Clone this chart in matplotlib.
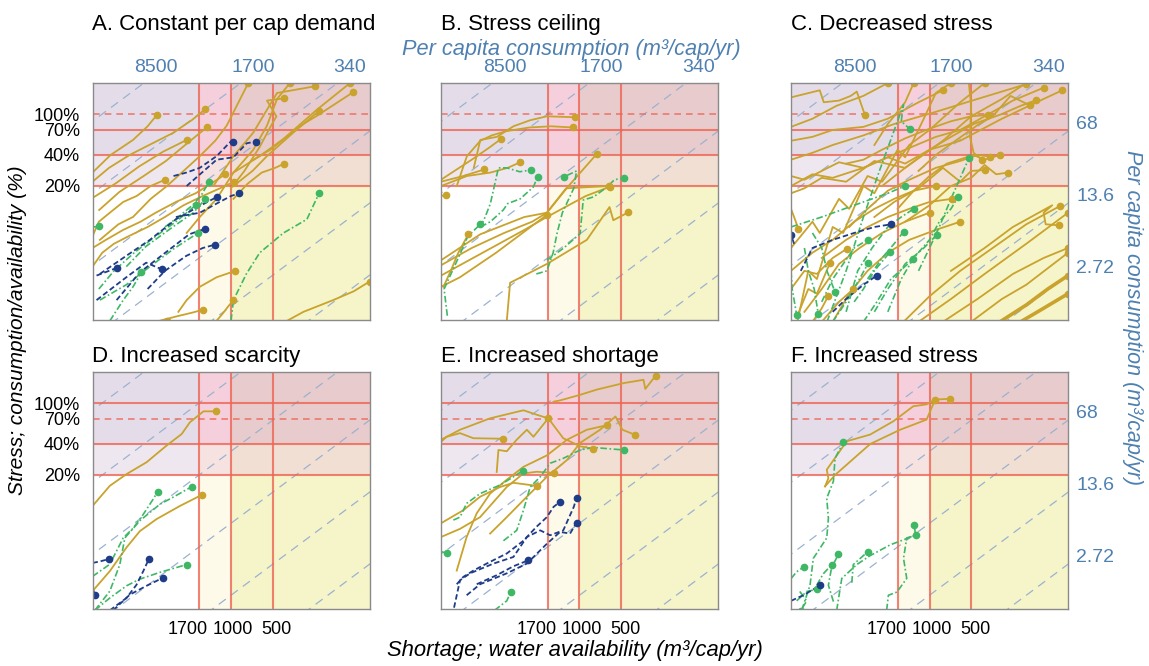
import matplotlib
matplotlib.use('Agg')
import matplotlib.pyplot as plt
import matplotlib.transforms as mtransforms
from matplotlib.ticker import NullLocator

plt.rcParams['font.family'] = ['Liberation Sans', 'DejaVu Sans']

# threshold lines and tick values
avail_lines = [1700, 1000, 500]
avail_labels = ['1700', '1000', '500']
stress_ticks = [1.0, 0.7, 0.4, 0.2]
stress_labels = ['100%', '70%', '40%', '20%']
percap_lines = [2.72, 13.6, 68, 340, 1700, 8500]
top_ticks = [8500, 1700, 340]
right_ticks = [68, 13.6, 2.72]

titles = ['A. Constant per cap demand', 'B. Stress ceiling', 'C. Decreased stress',
          'D. Increased scarcity', 'E. Increased shortage', 'F. Increased stress']

# trajectories: (water availability m3/cap/yr, stress fraction); last point gets a dot
A_gold = [
    [(10000, .27), (7400, .40), (5100, .56), (4000, .76), (3450, .97)],
    [(10000, .22), (7600, .30), (5400, .40), (3900, .50), (2650, .65), (1900, .88), (1530, 1.12)],
    [(8950, .117), (6400, .175), (4350, .246), (2950, .35), (2000, .54), (1480, .75)],
    [(9700, .157), (6800, .212), (4600, .31), (3100, .43), (2090, .56)],
    [(8850, .06), (6500, .085), (5100, .10), (3800, .15), (2900, .20), (2200, .28), (1680, .39),
     (1300, .55), (1075, .77), (750, 2.0)],
    [(2090, .07), (1680, .10), (1270, .15), (960, .27), (690, .45), (550, .77), (465, 1.4), (375, 2.0)],
    [(1340, .20), (960, .39), (690, .66), (550, 1.1), (465, 1.6), (247, 1.86)],
    [(960, .27), (620, .39), (420, .57), (240, 1.1), (138, 2.0)],
    [(690, .36), (520, .45), (418, .57), (300, .80), (240, .96), (132, 1.62)],
    [(960, .20), (700, .28), (550, .39), (355, .66), (230, 1.08)],
    [(1000, .19), (800, .28), (620, .48), (540, .68), (470, .95), (550, 1.35), (412, 1.42)],
    [(960, .15), (760, .21), (600, .27), (480, .30), (412, .33)],
    [(10000, .033), (8500, .045), (7000, .055), (5500, .065), (4000, .08), (3000, .10), (2200, .13),
     (1600, .16), (1200, .19), (950, .22)],
    [(10000, .05), (8000, .06), (6000, .075), (4500, .09), (3500, .11), (2500, .14), (1800, .17),
     (1400, .21), (1100, .26)],
    [(10000, .065), (9000, .09), (7500, .11), (6000, .14), (4800, .16), (3800, .20), (3000, .23)],
    [(3300, .0098), (2500, .0108), (1900, .0118), (1590, .0126)],
    [(2400, .012), (2090, .0156), (1680, .021), (1270, .026), (930, .030)],
    [(3600, .0095), (3100, .0097), (2920, .0098)],
    [(1300, .0095), (1150, .0115), (1050, .0135), (960, .0156)],
    [(395, .0098), (300, .012), (183, .0156), (130, .019), (100, .0236)],
]
A_green = [
    [(1000, .0098), (960, .0156), (775, .028), (620, .045), (418, .07), (283, .095), (254, .13), (230, .172)],
    [(3000, .08), (2400, .10), (1900, .13), (1650, .16), (1440, .22)],
    [(5700, .033), (4100, .052), (2600, .081), (1870, .11), (1530, .15)],
    [(8850, .0156), (5700, .022), (3850, .033), (2600, .049), (1730, .070)],
    [(7500, .0098), (6000, .0156), (5100, .021), (4430, .029)],
    [(10000, .080), (9000, .081)],
    [(9000, .02), (7000, .03), (5000, .045), (3500, .065), (2500, .09), (1800, .13)],
]
A_blue = [
    [(2600, .25), (2100, .27), (1680, .30), (1270, .39), (1020, .53), (960, .54)],
    [(2090, .20), (1270, .36), (960, .38), (770, .52), (660, .54)],
    [(2500, .10), (1680, .11), (1270, .135), (1000, .16), (870, .17)],
    [(8850, .028), (5700, .042), (3850, .06), (2500, .095), (1700, .127), (1270, .156)],
    [(6700, .0156), (4550, .029), (2920, .046), (2000, .068), (1530, .077)],
    [(4000, .02), (3000, .03), (2100, .042), (1600, .05), (1300, .054)],
    [(9350, .0156), (5700, .026), (4100, .036), (3150, .031)],
    [(9350, .027), (6700, .032)],
]

B_gold = [
    [(5800, .30), (5200, .56), (3950, .60), (3000, .76), (2270, .87), (1720, .95), (1075, .93)],
    [(7700, .20), (6500, .39), (5200, .55), (4300, .62), (3400, .68), (2300, .74), (1600, .76), (1120, .74)],
    [(10000, .23), (8000, .28), (6000, .36), (4500, .47), (3700, .57)],
    [(10000, .20), (6500, .25), (4400, .27), (3300, .30), (2680, .34)],
    [(10000, .22), (6900, .25), (4860, .29)],
    [(10000, .16), (9200, .163)],
    [(9600, .021), (8500, .03), (7500, .045), (6350, .068)],
    [(10000, .034), (6000, .05), (3500, .07), (2200, .09), (1720, .11), (1200, .20), (750, .41)],
    [(10000, .027), (5000, .045), (2500, .075), (1720, .10), (1200, .13), (900, .16), (607, .196)],
    [(3350, .0098), (3170, .023), (1720, .035), (885, .06), (607, .125), (570, .093), (444, .111)],
    [(10000, .038), (5200, .068), (2500, .10), (1720, .11), (1250, .19), (610, .20)],
    [(10000, .021), (7300, .026), (4000, .045), (1720, .105)],
]
B_green = [
    [(5200, .080), (4800, .10), (4400, .135), (3850, .30), (3350, .30), (2700, .275), (2250, .286)],
    [(5200, .080), (4400, .09), (3550, .117), (3300, .135), (2680, .15), (2150, .196), (2010, .246)],
    [(2050, .028), (1720, .030), (1550, .045), (1450, .07), (1330, .11), (1100, .19), (1050, .28), (1290, .246)],
    [(1720, .038), (1300, .05), (990, .069), (940, .146), (790, .157), (630, .196), (560, .23), (475, .24)],
    [(9000, .011), (9500, .02), (7500, .04), (6400, .065), (5200, .085)],
]
B_blue = []

C_gold = [
    [(10000, 1.45), (6200, 1.7), (5800, 1.3), (4500, 1.35), (3700, 1.5), (3350, 1.65), (2920, .97)],
    [(10000, .75), (7000, .9), (4700, 1.2), (3000, 1.5), (2000, 2.0)],
    [(10000, .36), (7000, .42), (5000, .5), (3000, .62), (1800, .8), (900, 1.05), (450, 1.4), (200, 1.95)],
    [(4000, .33), (3000, .36), (2200, .45), (1500, .58), (1000, .72), (700, .85), (500, .95), (378, .98)],
    [(2200, .2), (1500, .3), (1000, .45), (700, .6), (480, .8), (300, 1.0), (220, 1.2), (170, 1.36)],
    [(1200, .28), (900, .40), (650, .55), (450, .78), (350, .95), (260, 1.5), (188, 1.21)],
    [(3800, .08), (2800, .12), (2000, .18), (1400, .23), (900, .30), (600, .35), (450, .40), (364, .386)],
    [(1700, .12), (1300, .18), (1000, .25), (750, .33), (480, .40), (400, .36), (310, .40)],
    [(2500, .10), (1800, .14), (1200, .19), (800, .30), (600, .22), (500, .28), (395, .286)],
    [(1500, .09), (1000, .13), (700, .20), (500, .24), (400, .32), (330, .26), (270, .27)],
    [(6000, .04), (4000, .06), (2800, .08), (2000, .1), (1400, .12), (1000, .14), (690, .15)],
    [(1540, .0096), (1000, .017), (600, .03), (350, .05), (200, .085), (114, .128)],
    [(700, .03), (400, .05), (250, .08), (130, .13), (150, .11), (145, .085), (117, .083)],
    [(1200, .0096), (700, .016), (400, .028), (200, .055), (100, .11)],
    [(500, .0096), (300, .016), (200, .022), (100, .045)],
    [(800, .0096), (450, .016), (250, .028), (150, .04), (100, .05)],
    [(10000, .12), (9500, .10), (8850, .077)],
    [(10000, .02), (8000, .03), (6500, .028), (5000, .04), (3960, .049)],
    [(9000, .011), (7500, .02), (6500, .018), (5220, .036)],
    [(6000, .0096), (4500, .015), (3540, .02)],
    [(7000, .0096), (6000, .013), (5370, .0172)],
    [(9000, .0096), (7500, .03), (6500, .025), (5000, .08), (4200, .07), (3000, .2), (2500, .17),
     (1700, .45), (1500, .38), (1100, .9), (900, 1.6), (700, 2.0)],
    [(10000, .05), (7000, .09), (6200, .07), (4500, .15), (3800, .12), (2800, .25), (2200, .22),
     (1400, .5), (1000, .7), (600, 1.3), (400, 2.0)],
    [(10000, .17), (8000, .19), (6000, .24), (4000, .22), (2500, .35), (1500, .3), (800, .55),
     (500, .95), (300, 1.4), (200, 2.0)],
    [(10000, .20), (7000, .26), (5000, .24), (3000, .3), (1500, .45), (900, .6), (600, .7),
     (400, .95), (250, 1.35), (150, 1.8)],
    [(2500, .5), (2000, .8), (1500, 1.3), (1300, 2.0)],
    [(520, 2.0), (500, 1.2), (510, .6), (480, .42), (420, .36)],
    [(10000, .55), (7000, .6), (5000, .7), (3000, .75), (2000, .9), (1200, 1.3), (800, 1.7)],
    [(10000, .25), (8000, .23), (6000, .28), (4500, .34), (3000, .3), (2000, .38), (1500, .33),
     (1000, .45), (600, .55), (300, .9), (150, 1.4), (110, 1.7)],
    [(10000, .03), (7000, .045), (5000, .06), (3500, .09), (2500, .12), (1800, .15), (1300, .18), (900, .2)],
    [(8000, .012), (6000, .02), (4500, .035), (3200, .05), (2200, .07), (1500, .09), (1000, .11)],
    [(5000, .0096), (3800, .018), (2800, .03), (2000, .045), (1400, .06), (900, .075), (600, .09)],
]
C_thick = [
    [(310, .0096), (200, .014), (140, .02), (100, .027)],
    [(220, .0096), (150, .013), (100, .018)],
]
C_green = [
    [(5500, .0096), (4000, .03), (3000, .1), (2300, .28), (1540, 1.23), (1600, .85), (1380, .71)],
    [(2000, .012), (1600, .025), (1300, .04), (1000, .06), (850, .09), (700, .12), (620, .157)],
    [(1200, .03), (1000, .05), (850, .08), (700, .15), (520, .37)],
    [(2500, .012), (2000, .02), (1500, .035), (1100, .05), (885, .067)],
    [(3000, .0096), (2400, .015), (1900, .025), (1310, .039)],
    [(5000, .0096), (4000, .015), (3200, .025), (2760, .036)],
    [(10000, .03), (9800, .02), (9100, .0112)],
    [(8000, .05), (7500, .03), (6800, .02), (6350, .0114)],
    [(7000, .07), (6000, .05), (5500, .03), (4810, .0187)],
    [(3500, .015), (3000, .02), (2500, .03), (1920, .046)],
    [(2800, .025), (2200, .04), (1800, .055), (1540, .072)],
    [(10000, .08), (6000, .10), (3500, .13), (2000, .17), (1500, .2)],
    [(4000, .012), (3300, .03), (2600, .05), (2000, .08), (1600, .1), (1300, .12)],
    [(6000, .015), (5000, .025), (4200, .035), (3500, .05), (2800, .06)],
]
C_blue = [
    [(8500, .03), (7000, .05), (5000, .06), (3500, .07), (2500, .08), (1890, .085)],
    [(5000, .012), (4000, .016), (3000, .022), (2400, .027)],
    [(9500, .055), (10000, .067)],
]

D_gold = [
    [(10000, .100), (7500, .157), (5680, .204), (4070, .266), (2920, .386), (2270, .50), (1980, .65),
     (1580, .83), (1280, .83)],
    [(10000, .0149), (7500, .0233), (5680, .0396), (4550, .057), (3450, .0746), (2340, .100), (1630, .128)],
]
D_green = [
    [(9620, .0097), (7500, .0149), (6350, .027), (5840, .049), (4550, .072), (3260, .104), (2610, .122),
     (1920, .154)],
    [(10000, .0207), (7500, .0272), (6000, .049), (5080, .061), (4300, .083), (3640, .117), (3390, .137)],
    [(9620, .0097), (7500, .0128), (5680, .0168), (4550, .0195), (3260, .0227), (2090, .027)],
]
D_blue = [
    [(10000, .028), (8800, .029), (7660, .0305)],
    [(7500, .0097), (5680, .0128), (4810, .0172), (4300, .0233), (3920, .0305)],
    [(7100, .0097), (5370, .0138), (4070, .0168), (3120, .020)],
    [(10000, .016), (9620, .0138)],
]

E_gold = [
    [(1540, 1.03), (1380, 1.06), (990, 1.20), (750, 1.35), (480, 1.56), (345, 1.68), (335, 1.37), (282, 1.84)],
    [(10000, .44), (7290, .55), (4420, .71), (2540, .85), (2040, .77), (1680, .71)],
    [(3960, .214), (3850, .35), (3350, .34), (2840, .44), (2400, .55), (2150, .47), (1680, .71),
     (1310, .455), (990, .38), (800, .36)],
    [(10000, .42), (9100, .47), (7290, .51), (5840, .455), (3580, .45)],
    [(7700, .0236), (6530, .050), (5520, .085), (4420, .132), (3350, .18), (2540, .24), (1720, .31),
     (1230, .44), (885, .55), (630, .61)],
    [(4420, .054), (3350, .078), (2400, .123), (1720, .192), (1230, .28), (990, .41), (710, .55),
     (550, .74), (490, .55), (395, .49)],
    [(10000, .050), (7290, .060), (5220, .078), (3350, .153), (2540, .207), (2040, .215), (1530, .21)],
    [(10000, .068), (6900, .091), (5220, .123), (3740, .153), (3000, .168), (2040, .157)],
]
E_green = [
    [(3540, .046), (2840, .058), (2540, .091), (2270, .153), (1920, .192), (1630, .26), (1310, .29),
     (990, .35), (790, .37), (480, .35)],
    [(8140, .073), (7290, .078), (6530, .106), (5220, .132), (3740, .16), (3000, .192), (2570, .22)],
    [(10000, .036), (9100, .035)],
    [(4110, .0097), (3350, .0120), (3140, .0145)],
]
E_blue = [
    [(7700, .0174), (6900, .0205), (5840, .0236), (4680, .0276), (3350, .0346), (2540, .046), (2040, .063),
     (1720, .078), (1540, .098), (1380, .11)],
    [(8050, .0103), (7290, .019), (6170, .0222), (4180, .0276), (3000, .032), (2400, .050), (1920, .058),
     (1630, .052), (1310, .058), (1100, .098), (1050, .12)],
    [(6530, .0136), (5220, .0174), (3350, .0222), (2400, .0276), (1720, .043), (1380, .056), (1170, .054),
     (1050, .069)],
    [(5520, .0174), (3960, .0213), (3000, .026), (2340, .0297)],
]

F_gold = [
    [(5680, .155), (5370, .186), (5520, .225), (3960, .425), (2680, .494), (1820, .666), (1310, .93),
     (1050, .97), (910, 1.08), (710, 1.10)],
    [(5680, .155), (4810, .20), (2680, .40), (1630, .55), (1050, .69), (910, 1.08)],
]
F_green = [
    [(8370, .0097), (7290, .017), (6900, .031), (5520, .049), (5370, .076), (5520, .119), (4940, .174),
     (4810, .29), (4190, .415)],
    [(2040, .0097), (1980, .0136), (1720, .0146), (1460, .0198), (1540, .031), (1460, .049), (1260, .052),
     (1290, .065)],
    [(4680, .0097), (4300, .0198), (3350, .027), (2680, .033), (1920, .042), (1260, .052)],
    [(3640, .018), (3550, .027), (2790, .036)],
    [(4940, .0118), (5370, .017), (5100, .025), (4550, .034)],
    [(6530, .017), (5840, .022), (5080, .027)],
    [(10000, .0197), (9100, .023), (8050, .0257)],
    [(9100, .012), (7700, .0148), (6530, .0155)],
    [(8650, .0148), (7700, .012), (8520, .0096)],
]
F_blue = [
    [(10000, .012), (8150, .0136), (6900, .0155), (6170, .017)],
]

panels = [(A_gold, A_green, A_blue), (B_gold, B_green, B_blue), (C_gold, C_green, C_blue),
          (D_gold, D_green, D_blue), (E_gold, E_green, E_blue), (F_gold, F_green, F_blue)]

gold = '#c9a32c'
green = '#3fb866'
navy = '#1f3c88'
red = '#ee6454'
steel = '#4e80b0'
diag = '#9bb2d0'

regions = [  # (avail hi, avail lo, stress lo, stress hi, colour)
    (10000, 1700, .4, 2, '#e4dde9'), (10000, 1700, .2, .4, '#efe7f0'),
    (1700, 1000, .4, 2, '#f5d0dc'), (1700, 1000, .2, .4, '#f6e2e1'),
    (1000, 100, .4, 2, '#e8cbcc'), (1000, 100, .2, .4, '#f1dfd3'),
    (1700, 1000, .01, .2, '#fdfaea'), (1000, 100, .01, .2, '#f6f4c9'),
]

fig = plt.figure(figsize=(11.49, 6.66), dpi=100)
W, H = 1149, 666
col_left = [92.5, 441, 791]
row_top = [83, 372]
aw, ah = 277, 237
# horizontal nudges (px) of the bottom tick labels, as laid out in the source figure
xlabel_shift = [-11, 2, 4]


def draw_traj(ax, trajs, color, ls, lw):
    for t in trajs:
        xs = [p[0] for p in t]
        ys = [p[1] for p in t]
        ax.plot(xs, ys, color=color, ls=ls, lw=lw, zorder=4)
        ax.plot(xs[-1], ys[-1], 'o', color=color, ms=4.5, zorder=5, clip_on=True)


for i, (g, gr, bl) in enumerate(panels):
    r, c = divmod(i, 3)
    ax = fig.add_axes([col_left[c] / W, 1 - (row_top[r] + ah) / H, aw / W, ah / H])
    ax.set_xscale('log')
    ax.set_yscale('log')
    ax.set_xlim(10000, 100)
    ax.set_ylim(0.01, 2)

    for x0, x1, y0, y1, col in regions:
        ax.fill_between([x0, x1], y0, y1, color=col, lw=0, zorder=0)

    for cval in percap_lines:
        ax.plot([20000, 50], [cval / 20000, cval / 50], color=diag, lw=0.9,
                dashes=(7, 5), zorder=1)

    for a in avail_lines:
        ax.axvline(a, color=red, lw=1.5, alpha=0.8, zorder=2)
    for s in [0.2, 0.4]:
        ax.axhline(s, color=red, lw=1.5, alpha=0.8, zorder=2)
    if r == 0:
        ax.axhline(1.0, color=red, lw=1.2, alpha=0.8, dashes=(4, 3), zorder=2)
        ax.axhline(0.7, color=red, lw=1.5, alpha=0.8, zorder=2)
    else:
        ax.axhline(1.0, color=red, lw=1.5, alpha=0.8, zorder=2)
        ax.axhline(0.7, color=red, lw=1.2, alpha=0.8, dashes=(4, 3), zorder=2)

    draw_traj(ax, g, gold, '-', 1.3)
    if i == 2:
        draw_traj(ax, C_thick, gold, '-', 2.6)
    draw_traj(ax, gr, green, (0, (4, 1.5, 1, 1.5)), 1.2)
    draw_traj(ax, bl, navy, (0, (3, 1.6)), 1.3)

    ax.xaxis.set_minor_locator(NullLocator())
    ax.yaxis.set_minor_locator(NullLocator())
    ax.tick_params(length=0, labelsize=13)
    ax.tick_params(axis='y', pad=9)
    ax.tick_params(axis='x', pad=9)
    if c == 0:
        ax.set_yticks(stress_ticks, labels=stress_labels)
    else:
        ax.set_yticks([])
    if r == 1:
        ax.set_xticks(avail_lines, labels=avail_labels)
        for lab, dx in zip(ax.get_xticklabels(), xlabel_shift):
            lab.set_transform(lab.get_transform() +
                              mtransforms.ScaledTranslation(dx / 100, 0, fig.dpi_scale_trans))
    else:
        ax.set_xticks([])
    for sp in ax.spines.values():
        sp.set_color('#8a8a8a')
        sp.set_linewidth(1.0)
        sp.set_zorder(6)

    if r == 0:
        sx = ax.secondary_xaxis('top', functions=(lambda a: a * 2.45, lambda v: v / 2.45))
        sx.set_xticks(top_ticks, labels=[str(v) for v in top_ticks])
        sx.xaxis.set_minor_locator(NullLocator())
        sx.tick_params(length=0, labelsize=14, labelcolor=steel, pad=5)
        sx.spines['top'].set_visible(False)
    if c == 2:
        sy = ax.secondary_yaxis('right', functions=(lambda s: s * 82, lambda v: v / 82))
        sy.set_yticks(right_ticks, labels=['68', '13.6', '2.72'])
        sy.yaxis.set_minor_locator(NullLocator())
        sy.tick_params(length=0, labelsize=14, labelcolor=steel, pad=6)
        sy.spines['right'].set_visible(False)

    ty = 30 if r == 0 else 362
    fig.text(col_left[c] / W, 1 - ty / H, titles[i], fontsize=16, va='baseline', ha='left')

fig.text(571 / W, 1 - 55 / H, 'Per capita consumption (m³/cap/yr)', color=steel,
         fontsize=15.7, style='italic', ha='center', va='baseline')
fig.text(1133 / W, 1 - 317 / H, 'Per capita consumption (m³/cap/yr)', color=steel,
         fontsize=15.5, style='italic', ha='center', va='center', rotation=270)
fig.text(18 / W, 1 - 330 / H, 'Stress; consumption/availability (%)', fontsize=15,
         style='italic', ha='center', va='center', rotation=90)
fig.text(575 / W, 1 - 656 / H, 'Shortage; water availability (m³/cap/yr)', fontsize=15.8,
         style='italic', ha='center', va='baseline')

fig.savefig('out.png', dpi=100)
